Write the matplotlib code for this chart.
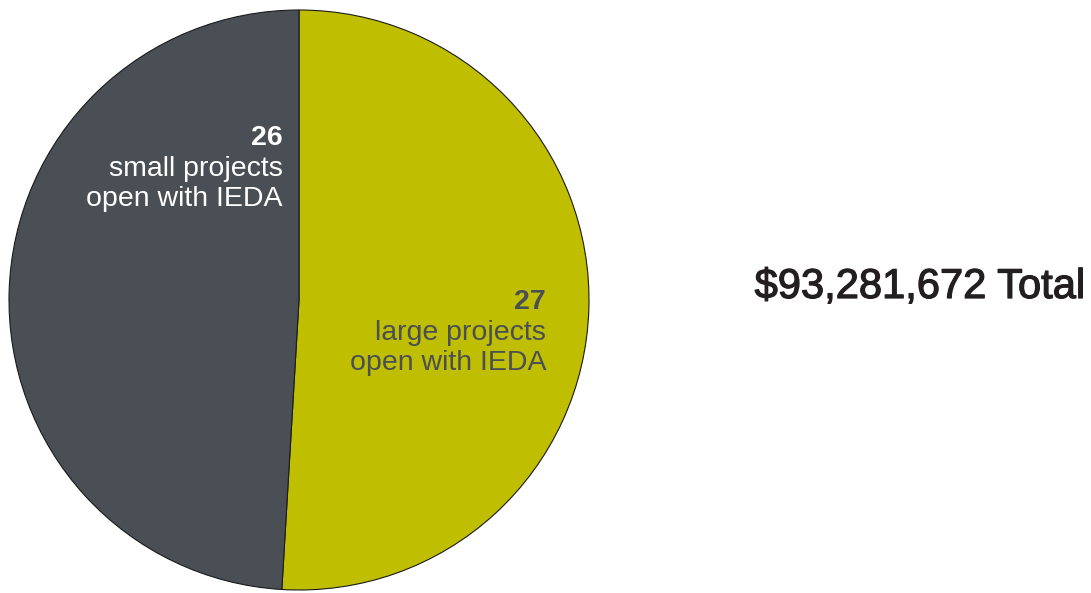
import matplotlib
matplotlib.use('Agg')
import matplotlib.pyplot as plt
import matplotlib.patheffects as pe

## data
labels = ['large projects\nopen with IEDA', 'small projects\nopen with IEDA']
counts = [27, 26]
colors = ['#bfbe00', '#4a4f55']
total_text = '$93,281,672 Total'

plt.rcParams['font.family'] = ['Liberation Sans', 'DejaVu Sans']

W, H = 1091, 593
fig = plt.figure(figsize=(W / 100, H / 100), dpi=100)
ax = fig.add_axes([0, 0, 1, 1])

# pie in pixel coords (y measured from bottom)
cx, cy, r = 299, H - 300, 290
ax.pie(counts, colors=colors, startangle=90, counterclock=False,
       center=(cx, cy), radius=r, frame=True,
       wedgeprops=dict(edgecolor='#1a1a1a', linewidth=0.8))
ax.set_xlim(0, W)
ax.set_ylim(0, H)
ax.set_aspect('equal')
ax.axis('off')

# labels: (right x, y of number) in pixel coords from top
label_pos = [(546, 302), (283, 138)]
text_cols = ['#4a4f55', 'white']
for (x, y), n, lab, tc in zip(label_pos, counts, labels, text_cols):
    ax.text(x, H - y, str(n), ha='right', va='center', fontsize=20.5,
            fontweight='bold', color=tc)
    for i, line in enumerate(lab.split('\n')):
        ax.text(x, H - (y + 31 + 30 * i), line, ha='right', va='center',
                fontsize=20.5, color=tc)

ax.text(1085, H - 287, total_text, ha='right', va='center', fontsize=30,
        color='#231f20',
        path_effects=[pe.withStroke(linewidth=0.9, foreground='#231f20')])

fig.savefig('out.png', dpi=100)
